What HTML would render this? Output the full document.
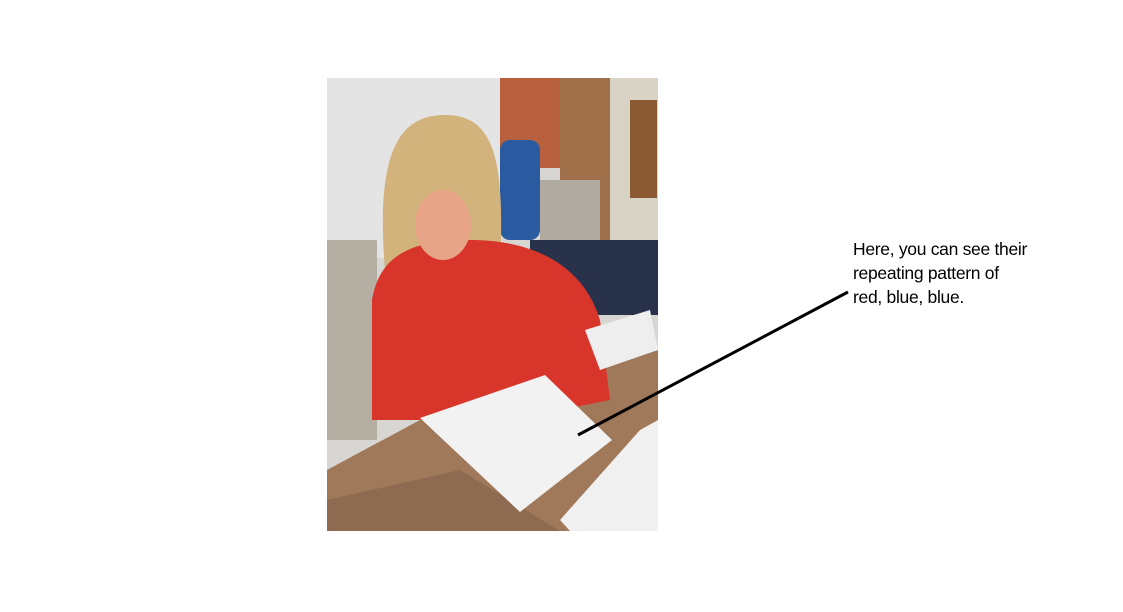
<!DOCTYPE html>
<html><head><meta charset="utf-8"><style>
body{margin:0;width:1123px;height:612px;background:#fff;position:relative;overflow:hidden;font-family:"Liberation Sans",sans-serif}
.a{position:absolute}
</style></head><body>
<svg class="a" style="left:0;top:0" width="1123" height="612">
 <defs><clipPath id="c"><rect x="327" y="78" width="331" height="453"/></clipPath></defs>
 <g clip-path="url(#c)">
  <rect x="327" y="78" width="331" height="453" fill="#d8d6d2"/>
  <rect x="327" y="78" width="175" height="180" fill="#e4e4e4"/>
  <rect x="327" y="240" width="50" height="200" fill="#b5afa3"/>
  <rect x="500" y="78" width="60" height="90" fill="#b8603e"/>
  <rect x="560" y="78" width="50" height="170" fill="#a0704a"/>
  <rect x="610" y="78" width="48" height="170" fill="#d9d3c6"/>
  <rect x="630" y="100" width="27" height="98" fill="#8b5a33"/>
  <rect x="500" y="140" width="40" height="100" fill="#2a5aa0" rx="10"/>
  <rect x="530" y="240" width="128" height="75" fill="#28324a"/>
  <rect x="540" y="180" width="60" height="60" fill="#b0aaa0"/>
  <polygon points="327,470 420,420 560,380 658,350 658,531 327,531" fill="#a0785a"/>
  <polygon points="327,500 460,470 560,531 327,531" fill="#8e6a50"/>
  <path d="M385,270 C375,150 400,115 445,115 C495,115 505,160 500,270 Z" fill="#d3b37c"/>
  <path d="M372,420 L372,300 C380,250 420,240 470,240 C540,240 585,270 600,320 L610,400 L560,410 L540,420 Z" fill="#d8352b"/>
  <ellipse cx="443" cy="225" rx="28" ry="35" fill="#e7a486"/>
  <polygon points="420,418 545,375 612,440 520,512" fill="#f2f2f2"/>
  <polygon points="585,330 650,310 658,350 600,370" fill="#eeeeee"/>
  <polygon points="560,520 640,430 658,420 658,531 570,531" fill="#f0f0f0"/>
 </g>
 <line x1="578" y1="435" x2="848" y2="292" stroke="#000" stroke-width="3"/>
</svg>
<div class="a" style="left:853px;top:237px;font-size:17.5px;line-height:24px;color:#000;letter-spacing:-0.3px">Here, you can see their<br>repeating pattern of<br>red, blue, blue.</div>
</body></html>
